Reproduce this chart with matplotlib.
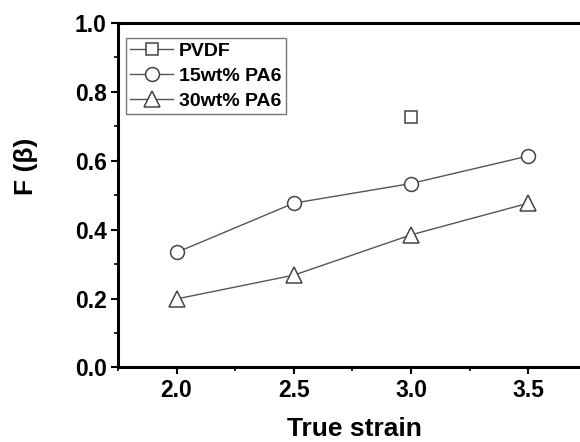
import numpy as np
import matplotlib.pyplot as plt
from matplotlib.ticker import MultipleLocator

plt.rcParams['font.family'] = ['Liberation Sans', 'DejaVu Sans']
plt.rcParams['font.weight'] = 'bold'
plt.rcParams['axes.labelweight'] = 'bold'

# data
strain = [2.0, 2.5, 3.0, 3.5]
pvdf_x = [3.0]
pvdf_y = [0.728]
pa6_15 = [0.334, 0.477, 0.534, 0.614]
pa6_30 = [0.199, 0.268, 0.385, 0.477]

fig = plt.figure(figsize=(5.8, 4.42), dpi=100)
ax = fig.add_axes([0.2034, 0.1686, 0.8086, 0.7794])

style = dict(color='#555555', lw=1.0, mfc='white', mec='#444444', mew=1.1, ms=10)
ax.plot(pvdf_x, pvdf_y, marker='s', label='PVDF', **{**style, 'ms': 9})
ax.plot(strain, pa6_15, marker='o', label='15wt% PA6', **style)
ax.plot(strain, pa6_30, marker='^', label='30wt% PA6', **{**style, 'ms': 11.5})

ax.set_xlim(1.75, 3.75)
ax.set_ylim(0.0, 1.0)
ax.xaxis.set_major_locator(MultipleLocator(0.5))
ax.xaxis.set_minor_locator(MultipleLocator(0.25))
ax.yaxis.set_major_locator(MultipleLocator(0.2))
ax.yaxis.set_minor_locator(MultipleLocator(0.1))
ax.tick_params(which='major', direction='out', length=5, width=1.5, labelsize=16.5, pad=3)
ax.tick_params(which='minor', direction='out', length=3, width=1.2)
ax.xaxis.set_major_formatter(plt.FormatStrFormatter('%.1f'))
ax.yaxis.set_major_formatter(plt.FormatStrFormatter('%.1f'))
for s in ax.spines.values():
    s.set_linewidth(2.2)

ax.set_xlabel('True strain', fontsize=19)
ax.xaxis.set_label_coords(0.505, -0.144)
ax.set_ylabel('F (β)', fontsize=19)
ax.yaxis.set_label_coords(-0.17, 0.585)

leg = ax.legend(loc='upper left', bbox_to_anchor=(8 / 469, 1 - 15 / 344.5),
                borderaxespad=0, fontsize=14, frameon=True, fancybox=False,
                edgecolor='#555555', handlelength=2.2, handletextpad=0.3,
                borderpad=0.22, labelspacing=0.38)
leg.get_frame().set_linewidth(1.0)

fig.savefig('out.png', dpi=100)
